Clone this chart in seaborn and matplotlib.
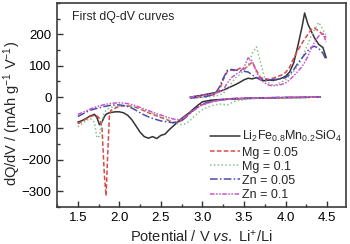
import numpy as np
import pandas as pd
import seaborn as sns
import matplotlib.pyplot as plt
from matplotlib.ticker import MultipleLocator

# discharge branch (negative currents), common voltage grid
dis_v = [1.5, 1.55, 1.6, 1.65, 1.7, 1.73, 1.76, 1.79, 1.82, 1.84, 1.86, 1.88, 1.9,
         1.95, 2.0, 2.05, 2.1, 2.15, 2.2, 2.25, 2.3, 2.35, 2.4, 2.45, 2.5, 2.55,
         2.6, 2.65, 2.7, 2.75, 2.8, 2.85, 2.9, 2.95, 3.0, 3.1, 3.2, 3.3, 3.4,
         3.6, 3.8, 4.0, 4.2, 4.42]
base_dis = [-80, -75, -68, -60, -55, -65, -88, -80, -62, -55, -52, -50, -49,
            -47, -47, -50, -58, -72, -92, -112, -126, -131, -126, -132, -122, -118,
            -104, -92, -80, -68, -58, -48, -36, -25, -15, -10, -8, -7, -6,
            -4, -3, -2, -1, 0]
mg05_dis = [-85, -78, -70, -62, -58, -60, -68, -95, -250, -315, -180, -60, -42,
            -35, -30, -28, -28, -30, -33, -38, -44, -50, -55, -60, -65, -70,
            -75, -80, -80, -75, -62, -50, -40, -30, -24, -16, -10, -7, -5,
            -3, -2, -1, -1, 0]
mg10_dis = [-95, -85, -75, -68, -80, -130, -125, -75, -50, -42, -38, -35, -33,
            -30, -28, -27, -28, -30, -33, -37, -42, -47, -52, -57, -62, -68,
            -74, -80, -85, -88, -85, -75, -62, -50, -40, -28, -22, -25, -12,
            -5, -3, -2, -1, 0]
zn05_dis = [-62, -55, -48, -42, -38, -36, -34, -32, -30, -29, -28, -27, -26,
            -25, -25, -27, -30, -35, -42, -50, -57, -63, -68, -72, -76, -78,
            -80, -82, -80, -75, -65, -52, -40, -30, -22, -14, -9, -6, -4,
            -3, -2, -1, -1, 0]
zn10_dis = [-55, -50, -44, -38, -33, -30, -28, -26, -24, -23, -22, -21, -20,
            -19, -18, -19, -21, -24, -28, -33, -38, -43, -48, -53, -57, -62,
            -66, -70, -72, -70, -62, -52, -42, -33, -25, -16, -10, -7, -5,
            -3, -2, -1, -1, 0]

# charge branch (positive currents)
chg_v = [2.85, 2.95, 3.05, 3.15, 3.2, 3.25, 3.3, 3.35, 3.4, 3.45, 3.5, 3.55, 3.6,
         3.65, 3.7, 3.75, 3.8, 3.85, 3.9, 3.95, 4.0, 4.05, 4.1, 4.15, 4.2, 4.23,
         4.27, 4.31, 4.35, 4.4, 4.45, 4.49]
base_chg = [0, 4, 9, 14, 17, 22, 28, 34, 40, 47, 55, 60, 58,
            62, 55, 52, 54, 53, 56, 60, 66, 80, 110, 165, 225, 268,
            232, 210, 188, 168, 158, 125]
mg05_chg = [-2, 0, 3, 8, 20, 55, 82, 86, 84, 92, 88, 100, 112,
            85, 62, 58, 57, 60, 65, 70, 78, 95, 125, 150, 172, 185,
            200, 215, 220, 210, 200, 190]
mg10_chg = [-3, -2, 0, 3, 6, 12, 25, 45, 62, 72, 85, 100, 140,
            160, 110, 60, 45, 38, 40, 48, 55, 68, 82, 100, 125, 145,
            170, 195, 215, 238, 215, 195]
zn05_chg = [-3, -1, 2, 10, 30, 60, 85, 88, 86, 84, 82, 80, 70,
            62, 58, 56, 55, 56, 57, 59, 62, 72, 88, 108, 125, 135,
            148, 158, 162, 155, 140, 118]
zn10_chg = [0, 3, 7, 12, 16, 22, 45, 62, 72, 80, 95, 125, 115,
            80, 55, 45, 38, 36, 38, 40, 45, 55, 68, 82, 98, 110,
            130, 155, 175, 195, 205, 175]

names = [r"Li$_2$Fe$_{0.8}$Mn$_{0.2}$SiO$_4$", "Mg = 0.05", "Mg = 0.1",
         "Zn = 0.05", "Zn = 0.1"]
dis_sets = [base_dis, mg05_dis, mg10_dis, zn05_dis, zn10_dis]
chg_sets = [base_chg, mg05_chg, mg10_chg, zn05_chg, zn10_chg]

frames = []
for name, d, c in zip(names, dis_sets, chg_sets):
    frames.append(pd.DataFrame({"V": dis_v, "dQdV": d, "series": name, "branch": "dis"}))
    frames.append(pd.DataFrame({"V": chg_v, "dQdV": c, "series": name, "branch": "chg"}))
df = pd.concat(frames, ignore_index=True)

sns.set_style("ticks")
plt.rcParams['font.family'] = ['Liberation Sans', 'DejaVu Sans']
plt.rcParams['mathtext.fontset'] = 'custom'
plt.rcParams['mathtext.rm'] = 'Liberation Sans'
plt.rcParams['mathtext.it'] = 'Liberation Sans:italic'

colors = ["#333333", "#d94a4a", "#8cc28c", "#4a4ab0", "#cc55cc"]
dashes = ["", (3, 1.5), (1, 1.5), (5, 1.5, 1, 1.5), (3, 1, 1, 1, 1, 1)]

fig = plt.figure(figsize=(3.5, 2.44), dpi=100)
ax = fig.add_axes([0.163, 0.152, 0.826, 0.836])
sns.lineplot(data=df, x="V", y="dQdV", hue="series", style="series",
             units="branch", estimator=None, sort=False,
             palette=dict(zip(names, colors)), dashes=dict(zip(names, dashes)),
             linewidth=1.1, ax=ax)

ax.set_xlim(1.25, 4.73)
ax.set_ylim(-350, 300)
ax.xaxis.set_major_locator(MultipleLocator(0.5))
ax.xaxis.set_minor_locator(MultipleLocator(0.25))
ax.yaxis.set_major_locator(MultipleLocator(100))
ax.yaxis.set_minor_locator(MultipleLocator(50))
ax.set_yticks([-300, -200, -100, 0, 100, 200])
ax.tick_params(which="both", direction="in", labelsize=9.5, colors="#333333",
               labelcolor="black", pad=4)
ax.tick_params(which="major", length=4, width=1.0)
ax.tick_params(which="minor", length=2.5, width=1.0)
for s in ax.spines.values():
    s.set_visible(True)
    s.set_color("#3c3c3c")
    s.set_linewidth(1.2)

ax.set_xlabel(r"Potential / V $\mathit{vs.}$ Li$^{+}$/Li", fontsize=10.5, labelpad=3)
ax.set_ylabel(r"dQ/dV / (mAh g$^{-1}$ V$^{-1}$)", fontsize=10.5)
ax.yaxis.set_label_coords(-0.118, 0.46)
ax.text(0.052, 0.93, "First dQ-dV curves", transform=ax.transAxes,
        fontsize=8.8, va="center", ha="left")

sns.move_legend(ax, "upper left", bbox_to_anchor=(0.53, 0.38), frameon=False,
                title=None, fontsize=9, handlelength=2.4, labelspacing=0.17,
                handletextpad=0.15, borderaxespad=0.0, borderpad=0.0)

fig.savefig("out.png", dpi=100)
